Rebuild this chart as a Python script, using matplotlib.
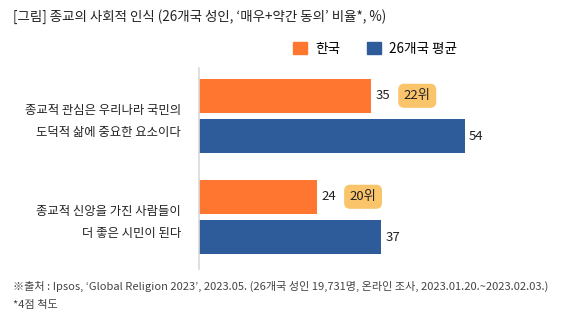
import matplotlib.pyplot as plt
from matplotlib.patches import Patch

plt.rcParams['font.family'] = ['Noto Sans CJK KR', 'DejaVu Sans']

# 데이터
categories = ["종교적 관심은 우리나라 국민의\n도덕적 삶에 중요한 요소이다",
              "종교적 신앙을 가진 사람들이\n더 좋은 시민이 된다"]
korea = [35, 24]
average = [54, 37]
ranks = ["22위", "20위"]
series_names = ["한국", "26개국 평균"]

orange = "#FF7630"
blue = "#2E5B99"
badge = "#FAC46A"

W, H = 567, 323
fig = plt.figure(figsize=(W / 100, H / 100), dpi=100)
ax = fig.add_axes([199 / W, 1 - 269 / H, (560 - 199) / W, (269 - 68) / H])

pos = list(range(len(categories)))
bh = 0.335
off = 0.2
ax.barh([p - off for p in pos], korea, height=bh, color=orange)
ax.barh([p + off for p in pos], average, height=bh, color=blue)

ax.set_xlim(0, 54 * 361 / 266)
ax.set_ylim(1.515, -0.475)

for p, v, r in zip(pos, korea, ranks):
    ax.annotate(str(v), (v, p - off), xytext=(3, 0), textcoords="offset points",
                va="center", ha="left", fontsize=9.5, color="#222222")
    ax.annotate(r, (v, p - off), xytext=(33, 0), textcoords="offset points",
                va="center", ha="center", fontsize=9.5, color="#222222",
                bbox=dict(boxstyle="round,pad=0.42,rounding_size=0.45",
                          fc=badge, ec="none"))
for p, v in zip(pos, average):
    ax.annotate(str(v), (v, p + off), xytext=(3, 0), textcoords="offset points",
                va="center", ha="left", fontsize=9.5, color="#222222")

ax.set_yticks(pos)
ax.set_yticklabels(categories, fontsize=8.9, color="#222222", linespacing=1.9)
ax.tick_params(axis="y", length=0, pad=13)
ax.set_xticks([])
for s in ["top", "right", "bottom"]:
    ax.spines[s].set_visible(False)
ax.spines["left"].set_color("#d9d9d9")
ax.spines["left"].set_linewidth(1.2)

fig.text(13 / W, 1 - 17 / H, "[그림] 종교의 사회적 인식 (26개국 성인, ‘매우+약간 동의’ 비율*, %)",
         fontsize=9.7, color="#222222", va="center", ha="left")

handles = [Patch(color=orange), Patch(color=blue)]
fig.legend(handles, series_names, loc="center", bbox_to_anchor=(375 / W, 1 - 49 / H),
           ncol=2, frameon=False, handlelength=1.0, handleheight=1.0,
           handletextpad=0.6, columnspacing=2.0, fontsize=9.8)

fig.text(13 / W, 1 - 286 / H,
         "※출처 : Ipsos, ‘Global Religion 2023’, 2023.05. (26개국 성인 19,731명, 온라인 조사, 2023.01.20.~2023.02.03.)",
         fontsize=8.0, color="#444444", va="center", ha="left")
fig.text(13 / W, 1 - 305 / H, "*4점 척도", fontsize=8.0, color="#444444",
         va="center", ha="left")

fig.savefig("out.png", dpi=100)
